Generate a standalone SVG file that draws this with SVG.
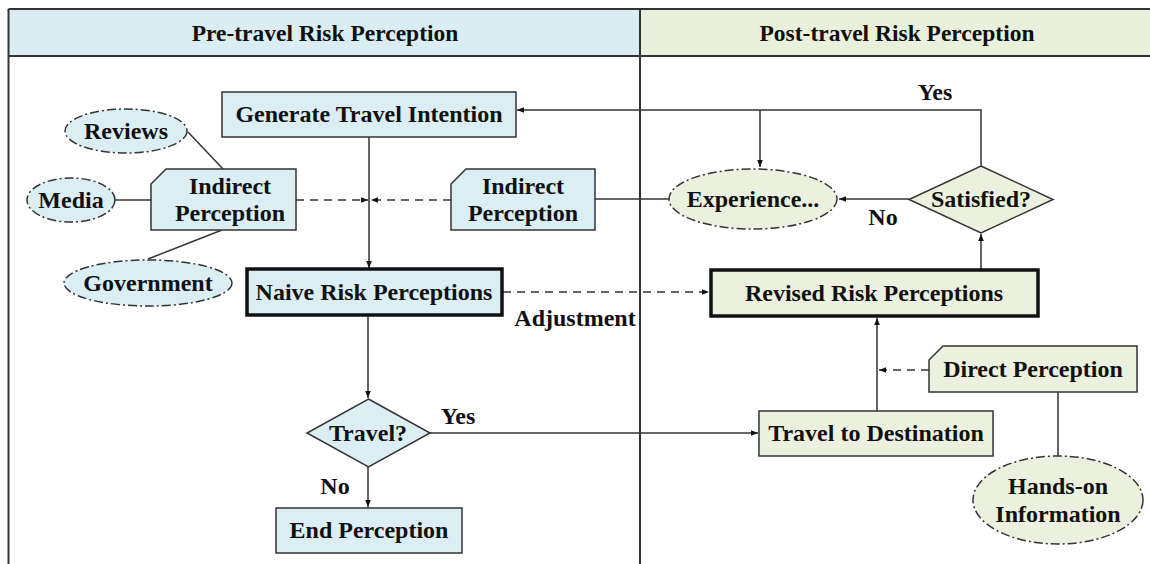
<svg xmlns="http://www.w3.org/2000/svg" width="1150" height="564" viewBox="0 0 1150 564">
<style>
text{font-family:"Liberation Serif","Times New Roman",serif;font-weight:bold;fill:#111;text-anchor:middle;dominant-baseline:central}
.t{font-size:24px}
.h{font-size:23.5px}
.b{fill:#dbeef4;stroke:#333;stroke-width:1.5}
.g{fill:#ebf1de;stroke:#333;stroke-width:1.5}
.k{stroke:#111;stroke-width:3.5}
.e{stroke-dasharray:9,3,2,3}
.ln{fill:none;stroke:#333;stroke-width:1.5}
.d{stroke-dasharray:8,6}
</style>
<defs>
<marker id="a" viewBox="0 0 10 10" refX="10" refY="5" markerWidth="7" markerHeight="7" orient="auto" markerUnits="userSpaceOnUse">
<path d="M0,1 L10,5 L0,9 z" fill="#111"/>
</marker>
</defs>
<rect width="1150" height="564" fill="#fff"/>
<g id="header">
<rect x="8.5" y="9" width="631.5" height="47" fill="#daedf3"/>
<rect x="640" y="9" width="512" height="47" fill="#e9f0dc"/>
<path d="M8.5,9 H1152 M8.5,56 H1152" stroke="#333" stroke-width="2" fill="none"/>
<path d="M8.5,9 V564 M640,9 V564" stroke="#333" stroke-width="2" fill="none"/>
<text class="h" x="325" y="33">Pre-travel Risk Perception</text>
<text class="h" x="897" y="33">Post-travel Risk Perception</text>
</g>
<g id="connectors">
<path class="ln" d="M188,132 L223,169"/>
<path class="ln" d="M115,200 H151"/>
<path class="ln" d="M222,230 L148,259"/>
<path class="ln" d="M369,137 V268" marker-end="url(#a)"/>
<path class="ln d" d="M296,200 H368" marker-end="url(#a)"/>
<path class="ln d" d="M451,200 H371" marker-end="url(#a)"/>
<path class="ln" d="M595,199 H669"/>
<path class="ln" d="M981,166 V110 H517" marker-end="url(#a)"/>
<path class="ln" d="M760,110 V167" marker-end="url(#a)"/>
<path class="ln" d="M909,199 H839" marker-end="url(#a)"/>
<path class="ln" d="M981,270 V234" marker-end="url(#a)"/>
<path class="ln d" d="M503,292 H709" marker-end="url(#a)"/>
<path class="ln" d="M368,316 V398" marker-end="url(#a)"/>
<path class="ln" d="M368,467 V507" marker-end="url(#a)"/>
<path class="ln" d="M430,433 H758" marker-end="url(#a)"/>
<path class="ln" d="M877,411 V318" marker-end="url(#a)"/>
<path class="ln d" d="M929,370 H879" marker-end="url(#a)"/>
<path class="ln" d="M1058,392 V456"/>
<text class="t" x="935" y="92">Yes</text>
<text class="t" x="883" y="217">No</text>
<text class="t" x="575" y="318">Adjustment</text>
<text class="t" x="458" y="416">Yes</text>
<text class="t" x="335" y="486">No</text>
</g>
<g id="reviews"><ellipse class="b e" cx="126" cy="131" rx="61" ry="22"/><text class="t" x="126" y="131">Reviews</text></g>
<g id="media"><ellipse class="b e" cx="71" cy="200" rx="44" ry="22"/><text class="t" x="71" y="200">Media</text></g>
<g id="government"><ellipse class="b e" cx="148" cy="283" rx="84" ry="23"/><text class="t" x="148" y="283">Government</text></g>
<g id="indirect-left"><path class="b" d="M166,169 H296 V230 H151 V184 Z"/><text class="t" x="230" y="186">Indirect</text><text class="t" x="230" y="213">Perception</text></g>
<g id="generate"><rect class="b" x="222" y="92" width="294" height="45"/><text class="t" x="369" y="114">Generate Travel Intention</text></g>
<g id="indirect-right"><path class="b" d="M466,169 H595 V230 H451 V184 Z"/><text class="t" x="523" y="186">Indirect</text><text class="t" x="523" y="213">Perception</text></g>
<g id="naive"><rect class="b k" x="247" y="269" width="255" height="46"/><text class="t" x="374" y="292">Naive Risk Perceptions</text></g>
<g id="travel"><path class="b" d="M368.5,399 L430,433 L368.5,467 L307,433 Z"/><text class="t" x="368" y="433">Travel?</text></g>
<g id="end"><rect class="b" x="276" y="508" width="186" height="45"/><text class="t" x="369" y="530">End Perception</text></g>
<g id="experience"><ellipse class="g e" cx="753" cy="199" rx="84" ry="30"/><text class="t" x="753" y="199">Experience...</text></g>
<g id="satisfied"><path class="g" d="M981,166 L1053,199.5 L981,233 L909,199.5 Z"/><text class="t" x="981" y="199">Satisfied?</text></g>
<g id="revised"><rect class="g k" x="711" y="270" width="327" height="46"/><text class="t" x="874" y="293">Revised Risk Perceptions</text></g>
<g id="travel-dest"><rect class="g" x="759" y="411" width="234" height="45"/><text class="t" x="876" y="433">Travel to Destination</text></g>
<g id="direct"><path class="g" d="M943,346 H1137 V392 H929 V360 Z"/><text class="t" x="1033" y="369">Direct Perception</text></g>
<g id="handson"><ellipse class="g e" cx="1058" cy="500" rx="85" ry="44"/><text class="t" x="1058" y="486">Hands-on</text><text class="t" x="1058" y="514">Information</text></g>
</svg>
